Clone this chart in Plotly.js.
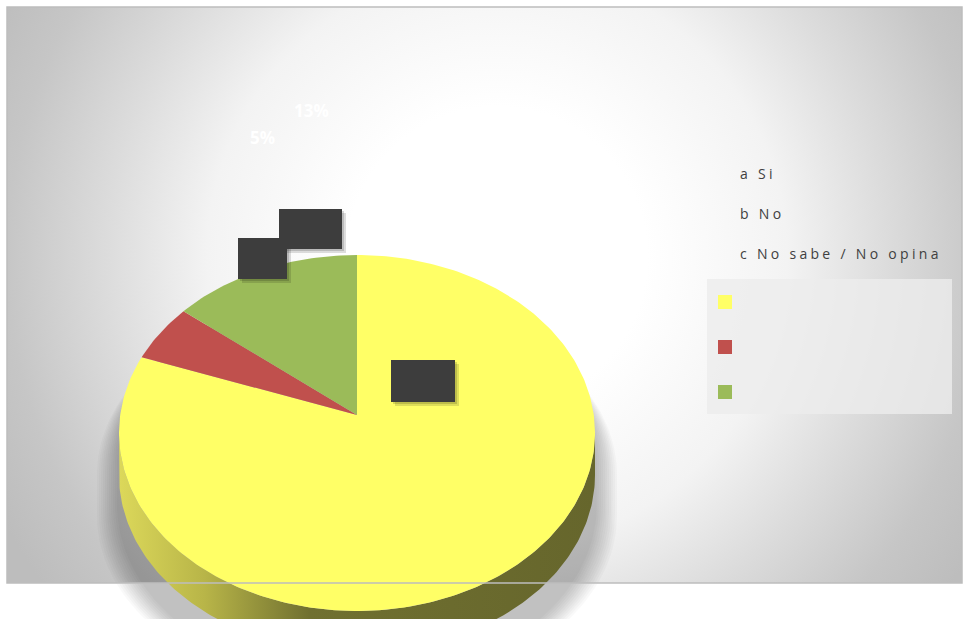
<!DOCTYPE html>
<html>
<head>
<meta charset="utf-8">
<script src="https://cdn.plot.ly/plotly-3.0.1.min.js"></script>
<style>
  html, body { margin:0; padding:0; background:#ffffff; }
  #wrap { position:relative; width:963px; height:619px; overflow:hidden; }
  #bg { position:absolute; left:7px; top:7px; width:955px; height:576px;
        background: radial-gradient(circle at 490px 250px, #ffffff 0px, #ffffff 150px, #f3f3f3 290px, #dcdcdc 390px, #c6c6c6 490px, #bdbdbd 560px); }
  #chart { position:absolute; left:0; top:0; width:963px; height:619px; }
</style>
</head>
<body>
<div id="wrap">
  <div id="bg"></div>
  <div id="chart"></div>
</div>
<script>
// ---- data ----
const categories = ['a Si', 'b No', 'c No sabe / No opina'];
const values = [82, 5, 13];
const pctLabels = ['82%', '5%', '13%'];
const sliceColors = ['#ffff66', '#c0504d', '#9bbb59'];

// ---- geometry of the tilted (3D-looking) pie, in pixel space ----
const CX = 357, CY = 433, AY = 415, RX = 238, RY = 178, DEPTH = 42;
const rad = d => d * Math.PI / 180;
function ept(deg, dy) { // clockwise from top
  return [CX + RX * Math.sin(rad(deg)), CY - RY * Math.cos(rad(deg)) + (dy || 0)];
}

const traces = [];
const total = values.reduce((a, b) => a + b, 0);

// soft drop shadow: silhouette widened horizontally and pushed down
function silhouette(grow, shift) {
  const xs = [], ys = [];
  for (let d = -90; d <= 90; d += 2) {
    const a = rad(d);
    xs.push(CX + (RX + grow) * Math.sin(a)); ys.push(CY - RY * Math.cos(a) + shift);
  }
  for (let d = 90; d <= 270; d += 2) {
    const a = rad(d);
    xs.push(CX + (RX + grow) * Math.sin(a)); ys.push(CY - RY * Math.cos(a) + DEPTH + shift);
  }
  return {xs, ys};
}
for (let g = 22; g >= 2; g -= 2) {
  const p = silhouette(g, 28 + g * 0.6);
  traces.push({type:'scatter', mode:'lines', x:p.xs, y:p.ys, fill:'toself',
    fillcolor:'rgba(0,0,0,0.022)', line:{width:0}, hoverinfo:'skip', showlegend:false});
}

// side band (depth)
{
  const xs = [], ys = [];
  for (let d = 90; d <= 270; d += 1) { const p = ept(d); xs.push(p[0]); ys.push(p[1]); }
  for (let d = 270; d >= 90; d -= 1) { const p = ept(d, DEPTH); xs.push(p[0]); ys.push(p[1]); }
  traces.push({type:'scatter', mode:'lines', x:xs, y:ys, fill:'toself',
    fillgradient:{type:'horizontal', colorscale:[[0,'#dcd85a'],[0.18,'#b8b548'],[0.4,'#707030'],[1,'#66662c']]},
    fillcolor:'#7a7a32', line:{width:0}, hoverinfo:'skip', showlegend:false});
}

// slices of the top face
let start = 0;
values.forEach((v, i) => {
  const sweep = v / total * 360;
  const xs = [CX], ys = [AY];
  const n = Math.max(4, Math.ceil(sweep));
  for (let k = 0; k <= n; k++) {
    const p = ept(start + sweep * k / n); xs.push(p[0]); ys.push(p[1]);
  }
  xs.push(CX); ys.push(AY);
  traces.push({type:'scatter', mode:'lines', x:xs, y:ys, fill:'toself',
    fillcolor:sliceColors[i], line:{width:0}, name:categories[i], hoverinfo:'skip', showlegend:false});
  start += sweep;
});

// ---- annotations ----
const annotations = [];
const boxes = [
  {x:310.5, y:229, w:63, h:40},
  {x:262.5, y:258.5, w:49, h:41},
  {x:423, y:381, w:64, h:42}
];
const shapes = [];
boxes.forEach(b => {
  shapes.push({type:'rect', xref:'x', yref:'y', x0:b.x - b.w/2 + 4, x1:b.x + b.w/2 + 4, y0:b.y - b.h/2 + 4, y1:b.y + b.h/2 + 4,
    fillcolor:'rgba(0,0,0,0.13)', line:{width:0}, layer:'above'});
  shapes.push({type:'rect', xref:'x', yref:'y', x0:b.x - b.w/2 + 2, x1:b.x + b.w/2 + 2, y0:b.y - b.h/2 + 2, y1:b.y + b.h/2 + 2,
    fillcolor:'rgba(0,0,0,0.15)', line:{width:0}, layer:'above'});
});
boxes.forEach(b => {
  annotations.push({xref:'x', yref:'y', x:b.x, y:b.y, text:' ', showarrow:false,
    width:b.w, height:b.h, bgcolor:'#3d3d3d', borderpad:0, borderwidth:0});
});
annotations.push({xref:'x', yref:'y', x:311, y:110, text:'<b>' + pctLabels[2] + '</b>', showarrow:false,
  font:{family:'Open Sans, Liberation Sans, sans-serif', size:17, color:'#ffffff'}});
annotations.push({xref:'x', yref:'y', x:262, y:137, text:'<b>' + pctLabels[1] + '</b>', showarrow:false,
  font:{family:'Open Sans, Liberation Sans, sans-serif', size:17, color:'#ffffff'}});

const legY = [173, 213, 253];
const LEG_X = 738;
categories.forEach((c, i) => {
  annotations.push({xref:'x', yref:'y', x:LEG_X, y:legY[i], text:c, showarrow:false, xanchor:'left',
    font:{family:'Open Sans, sans-serif', size:14, color:'#404040'}});
});
shapes.push({type:'rect', xref:'x', yref:'y', x0:707, x1:952, y0:279, y1:414,
  fillcolor:'rgba(236,236,236,0.8)', line:{width:0}, layer:'below'});
const swY = [302, 347, 392];
sliceColors.forEach((col, i) => {
  shapes.push({type:'rect', xref:'x', yref:'y', x0:718, x1:732, y0:swY[i] - 7, y1:swY[i] + 7,
    fillcolor:col, line:{width:0}, layer:'above'});
});
shapes.push({type:'rect', xref:'x', yref:'y', x0:7, x1:962, y0:7, y1:583,
  fillcolor:'rgba(0,0,0,0)', line:{color:'#bdbdbd', width:1.5}, layer:'above'});

const layout = {
  width:963, height:619,
  margin:{l:0, r:0, t:0, b:0, pad:0},
  paper_bgcolor:'rgba(0,0,0,0)', plot_bgcolor:'rgba(0,0,0,0)',
  xaxis:{range:[0,963], visible:false, fixedrange:true},
  yaxis:{range:[619,0], visible:false, fixedrange:true},
  showlegend:false,
  annotations:annotations,
  shapes:shapes
};

Plotly.newPlot('chart', traces, layout, {staticPlot:true, displayModeBar:false}).then(() => {
  document.querySelectorAll('.annotation-text').forEach(t => {
    if (categories.indexOf(t.textContent) >= 0) {
      const before = t.getBoundingClientRect().left;
      t.style.letterSpacing = '3.3px';
      const after = t.getBoundingClientRect().left;
      t.setAttribute('transform', 'translate(' + (before - after) + ',0)');
    }
  });
});
</script>
</body>
</html>
